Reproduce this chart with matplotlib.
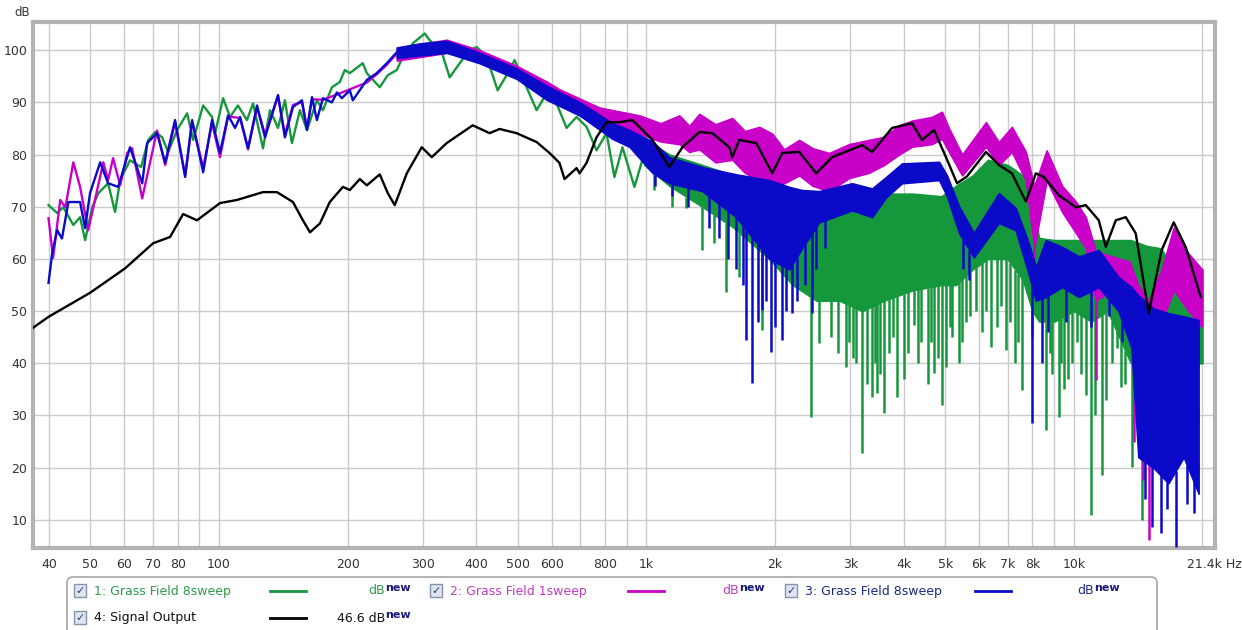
import numpy as np
import matplotlib
matplotlib.use('Agg')
import matplotlib.pyplot as plt
from matplotlib.patches import Rectangle, FancyBboxPatch

# colours of the four REW traces
GREEN = '#15983c'
MAGENTA = '#c800c8'
BLUE = '#0a0ac8'
BLACK = '#000000'

# ---- 4: Signal Output (smooth trace) ----
black_f = [36.7, 39.9, 49.9, 60.3, 70.1, 76.8, 82.4, 88.8, 100.5, 110.2, 126.7, 136.6, 148.9, 157.1,
           163.2, 172.2, 181.6, 194.9, 202.3, 213.5, 221.7, 237.7, 248.2, 257.7, 275.0, 298.0, 314.6,
           341.0, 392.2, 429.7, 453.4, 496.8, 553.4, 593.3, 626.0, 643.2, 686.3, 697.6, 724.3, 764.3,
           806.5, 864.9, 927.4, 1033, 1132, 1214, 1330, 1426, 1563, 1588, 1649, 1807, 1970, 2079, 2278,
           2496, 2720, 3197, 3373, 3757, 4183, 4415, 4709, 5022, 5330, 5623, 6229, 6678, 7164, 7726,
           8152, 8510, 9226, 10110, 10670, 11440, 11880, 12540, 13230, 13960, 14970, 16060, 17130,
           18270, 19810]
black_db = [46.8, 48.9, 53.5, 58.2, 63.0, 64.2, 68.6, 67.4, 70.7, 71.3, 72.8, 72.8, 70.9, 67.4,
            65.1, 66.8, 70.9, 73.8, 73.2, 75.3, 74.1, 76.2, 72.6, 70.3, 76.4, 81.4, 79.5,
            82.2, 85.6, 84.1, 84.9, 84.1, 82.4, 80.3, 78.4, 75.3, 77.4, 76.4, 78.4, 83.3,
            86.2, 86.2, 86.6, 82.8, 77.6, 81.4, 84.3, 84.1, 81.4, 79.5, 82.8, 82.2, 76.4, 80.3, 80.5,
            76.4, 79.5, 81.8, 80.5, 85.1, 86.0, 82.8, 84.7, 79.5, 74.5, 75.8, 80.5, 78.0, 76.4, 71.0,
            76.4, 75.7, 72.2, 69.9, 70.3, 67.4, 62.3, 67.4, 68.0, 64.9, 49.6, 61.7, 67.0,
            62.3, 52.7]

# ---- 1: Grass Field 8sweep (green) ----
green_f = [39.9, 41.8, 43.2, 45.6, 47.3, 48.6, 50.5, 52.2, 55.0, 57.1, 58.7, 61.9, 65.7, 68.3, 70.9,
           73.6, 76.0, 79.8, 84.2, 87.0, 91.8, 96.3, 97.9, 102.2, 106.1, 110.7, 116.2, 120.1, 126.7,
           131.6, 137.4, 142.6, 148.1, 154.6, 160.6, 169.4, 175.0, 183.7, 191.7, 196.9, 202.3, 216.9,
           221.7, 237.7, 248.2, 260.6, 269.1, 284.0, 302.9, 311.2, 331.9, 346.5, 365.7, 385.9, 400.7,
           422.8, 448.6, 478.6, 491.6, 524.3, 553.4, 583.9, 616.3, 650.2, 686.3, 724.3, 764.3, 806.5,
           841.8, 878.9, 937.6, 989.3]
green_db = [70.3, 68.8, 69.9, 66.5, 68.0, 63.6, 69.9, 72.6, 74.5, 69.0, 75.1, 78.9, 77.6, 82.8, 84.3,
            83.3, 80.5, 84.7, 87.9, 82.8, 89.4, 87.2, 84.1, 90.8, 87.2, 89.4, 86.6, 89.8, 81.2,
            88.5, 85.1, 90.4, 82.2, 88.5, 84.7, 90.4, 88.5, 92.9, 93.9, 96.2, 95.6, 97.5,
            95.6, 92.9, 95.2, 96.2, 98.7, 101.3, 103.2, 101.9, 99.6, 94.8, 97.5, 100.0, 100.6,
            98.7, 92.3, 96.2, 98.1, 92.9, 88.5, 91.7, 89.8, 85.1, 87.2, 85.3, 80.8, 84.1,
            75.7, 81.4, 73.8, 80.3]
green_band_f = [989, 1132, 1351, 1600, 1938, 2200, 2500, 2830, 3200, 3600, 4200, 4900, 5300, 5800,
                6300, 7000, 7600, 8000, 8300, 9000, 10000, 11000, 12000, 13600, 14800, 16000, 17000, 20000]
green_band_hi = [83, 80, 78, 76, 75.5, 73, 70, 72, 72.5, 72.5, 72.5, 72, 74, 76,
                 79, 78, 76, 70, 64, 63.6, 63.6, 63.6, 63.6, 63.6, 62.5, 62, 58.4, 58]
green_band_lo = [78, 74, 70, 66, 60, 55, 52, 52, 50, 52, 54, 55, 55, 58,
                 60, 60, 56, 50, 48, 48, 50, 48, 50, 40, 40, 40, 40, 40]
green_dip_f = [1044, 1150, 1240, 1351, 1442, 1538, 1649, 1866, 2430, 2537, 2700, 2800, 2933, 3100,
               3197, 3280, 3373, 3464, 3597, 3700, 3859, 4000, 4229, 4400, 4550, 4709, 4915, 5022,
               5200, 5386, 5600, 5900, 6100, 6399, 6600, 6936, 7100, 7300, 7557, 8000, 8600, 8900,
               9226, 9500, 9900, 10400, 10960, 11200, 11630, 12300, 12880, 13200, 13660, 14420,
               2980, 3050, 3420, 3520, 3780, 4100, 4320, 4640, 4800, 5120, 5480, 5720, 6230, 6750,
               7420, 8800, 9350, 9700, 10200, 10700, 11900, 12600]
green_dip_db = [73.2, 70.0, 69.7, 61.7, 63.0, 53.6, 56.5, 46.4, 29.7, 43.9, 45.0, 42.0, 39.3, 40.0,
                22.8, 36.0, 33.5, 34.3, 30.4, 42.0, 33.5, 37.0, 47.3, 44.0, 36.0, 38.1, 32.0, 39.3,
                45.0, 40.1, 48.0, 50.0, 46.0, 43.1, 47.0, 42.5, 48.0, 40.0, 34.9, 45.0, 27.2, 38.0,
                29.7, 35.0, 40.0, 38.0, 10.9, 30.0, 18.6, 40.0, 35.4, 36.0, 20.1, 10.0,
                44.0, 41.0, 40.0, 38.0, 45.0, 42.0, 40.0, 44.0, 41.0, 47.0, 44.0, 49.0, 50.0, 51.0,
                44.0, 42.0, 40.0, 37.0, 44.0, 34.0, 33.0, 43.0]

# ---- 2: Grass Field 1sweep (magenta) ----
mag_f = [39.9, 40.9, 42.5, 43.7, 45.6, 47.3, 49.4, 50.8, 53.6, 55.0, 56.5, 58.7, 61.0, 62.6, 66.1,
         71.6, 74.8, 78.9, 83.3, 86.5, 91.8, 96.3, 100.5, 105.0, 112.0, 116.9, 122.7, 128.1, 137.4,
         142.6, 148.9, 156.3, 160.6, 165.0, 175.0, 188.7, 202.3, 221.7, 233.9, 246.9, 260.6]
mag_db = [67.8, 60.2, 71.3, 69.9, 78.5, 73.8, 65.5, 69.9, 78.5, 75.1, 79.3, 74.1, 80.3, 81.2, 71.6,
          84.6, 78.0, 86.2, 76.0, 86.2, 77.5, 86.0, 79.5, 87.3, 87.0, 81.0, 89.0, 83.8, 91.2,
          83.8, 89.5, 90.0, 85.0, 90.6, 90.5, 91.5, 92.5, 93.8, 95.4, 97.2, 99.4]
mag_band_f = [260.6, 341, 407, 497, 584, 626, 777, 963, 1080, 1194, 1260, 1330, 1450, 1588, 1700,
              1837, 1970, 2100, 2278, 2450, 2675, 2982, 3316, 3600, 3900, 4183, 4653, 4915, 5107,
              5479, 6229, 6678, 7164, 7726, 8079, 8640, 9390, 10110, 10670, 11250, 12260, 13500,
              14160, 14970, 16060, 17130, 18570, 19960]
mag_band_hi = [100.5, 102.0, 100.0, 97.0, 94.0, 92.5, 89.0, 87.5, 86.0, 87.5, 85.5, 87.8, 85.8, 87.0,
               84.5, 85.3, 84.0, 81.0, 82.8, 81.2, 80.3, 82.0, 82.8, 83.4, 85.6, 86.5, 87.2, 88.2,
               85.0, 80.0, 86.2, 82.4, 85.3, 80.5, 74.0, 80.8, 74.0, 71.0, 68.0, 61.5, 60.5, 59.5,
               55.0, 52.0, 58.0, 66.0, 61.0, 58.0]
mag_band_lo = [98.0, 99.5, 98.0, 95.0, 91.5, 89.5, 85.5, 84.0, 82.5, 82.0, 80.5, 81.0, 78.5, 79.0,
               76.5, 75.0, 73.5, 74.5, 76.0, 74.0, 73.0, 75.5, 76.5, 78.0, 80.0, 81.5, 82.0, 83.0,
               80.5, 76.0, 81.5, 78.0, 80.5, 75.0, 62.0, 75.0, 69.0, 65.0, 62.0, 52.0, 54.0, 50.0,
               40.0, 38.0, 48.0, 54.0, 50.0, 47.0]
mag_dip_f = [8079, 11250, 13800, 14500, 14970]
mag_dip_db = [54.0, 36.8, 25.0, 17.6, 6.1]

# ---- 3: Grass Field 8sweep (blue) ----
blue_f = [39.9, 40.7, 41.8, 42.9, 44.4, 47.3, 48.6, 49.9, 52.7, 55.0, 58.1, 61.9, 66.1, 67.9, 71.6,
          74.8, 78.9, 83.3, 86.5, 91.8, 96.3, 100.5, 105.0, 109.0, 112.0, 116.9, 122.7, 128.1, 137.4,
          142.6, 148.9, 156.3, 160.6, 165.0, 169.4, 175.0, 183.7, 188.7, 193.8, 202.3, 205.6, 221.7,
          233.9, 246.9, 260.6]
blue_db = [55.4, 61.1, 65.5, 63.9, 70.9, 70.9, 65.9, 72.6, 78.5, 74.5, 73.8, 81.4, 74.5, 82.2, 84.1,
           78.4, 86.6, 75.7, 86.6, 76.6, 86.6, 80.3, 87.5, 85.1, 87.2, 81.2, 89.4, 83.3, 91.4,
           83.3, 89.1, 90.4, 84.7, 91.0, 86.6, 90.8, 90.0, 91.9, 90.8, 92.3, 90.4, 94.3,
           95.6, 97.5, 99.6]
blue_band_f = [260.6, 295, 341, 407, 497, 584, 698, 833, 912, 1033, 1132, 1351, 1623, 1938, 2158,
               2312, 2536, 3030, 3373, 3637, 3963, 4840, 5050, 5394, 5837, 6678, 7309, 7848, 8152,
               8597, 9390, 10280, 11440, 12720, 13640, 14160, 15350, 16650, 18080, 19590]
blue_band_hi = [100.5, 101.3, 101.8, 99.5, 96.5, 93.2, 90.0, 86.0, 84.7, 82.5, 79.5, 77.6, 76.2, 75.1,
                73.8, 73.2, 73.0, 74.5, 73.5, 75.7, 78.3, 78.6, 76.0, 70.0, 65.0, 72.6, 69.8, 63.0,
                58.4, 63.6, 62.3, 60.5, 61.7, 56.5, 54.6, 53.0, 50.5, 49.6, 49.0, 48.3]
blue_band_lo = [98.5, 99.0, 99.5, 97.5, 94.5, 90.5, 87.5, 83.0, 81.5, 76.5, 74.5, 73.0, 68.0, 60.0,
                58.0, 62.0, 67.0, 69.3, 68.0, 71.8, 74.5, 75.1, 72.0, 64.9, 60.3, 66.9, 65.5, 57.0,
                52.0, 52.7, 54.6, 52.7, 54.6, 50.0, 43.0, 22.0, 20.0, 17.0, 22.0, 15.0]
blue_dip_f = [1712, 1769, 1866, 1960, 2079, 2193, 2443, 7979, 8419, 14700, 15210, 15970, 16500,
              17310, 18400, 19070, 1050, 1150, 1250, 1400, 1480, 1550, 1620, 1680, 1820, 1900,
              2000, 2120, 2250, 2350, 2500, 2620, 5500, 5700, 8700, 9600, 11000, 12100, 13000]
blue_dip_db = [44.4, 36.2, 50.2, 42.1, 44.4, 49.6, 49.6, 28.5, 40.0, 14.0, 8.6, 7.5, 12.0,
               4.8, 13.0, 11.3, 74.0, 72.0, 70.0, 66.0, 64.0, 60.0, 58.0, 55.0, 48.0, 52.0,
               47.0, 50.0, 52.0, 55.0, 58.0, 62.0, 58.0, 56.0, 46.0, 48.0, 47.0, 49.0, 44.0]

# axis ticks
grid_f = [40, 50, 60, 70, 80, 90, 100, 200, 300, 400, 500, 600, 700, 800, 900,
          1000, 2000, 3000, 4000, 5000, 6000, 7000, 8000, 9000, 10000, 20000]
grid_lbl = ['40', '50', '60', '70', '80', '', '100', '200', '300', '400', '500', '600', '', '800', '',
            '1k', '2k', '3k', '4k', '5k', '6k', '7k', '8k', '', '10k', '']
grid_db = [10, 20, 30, 40, 50, 60, 70, 80, 90, 100]

W, H = 1242, 630
fig = plt.figure(figsize=(W / 100, H / 100), dpi=100)
fig.patch.set_facecolor('white')

# overlay in pixel coordinates for the loose text and legend
ov = fig.add_axes([0, 0, 1, 1], zorder=0)
ov.set_xlim(0, W)
ov.set_ylim(H, 0)
ov.axis('off')

ax = fig.add_axes([33 / W, (H - 548) / H, 1182 / W, 526 / H], zorder=1)
ax.set_xscale('log')
ax.set_xlim(36.7, 21400)
ax.set_ylim(4.6, 105.4)

ax.set_xticks(grid_f)
ax.set_xticklabels(grid_lbl)
ax.xaxis.set_minor_locator(matplotlib.ticker.NullLocator())
ax.set_yticks(grid_db)
ax.tick_params(axis='both', length=0, labelsize=9, labelcolor='#333333')
ax.tick_params(axis='x', pad=7)
ax.tick_params(axis='y', pad=4)
ax.grid(True, color='#cbcbcb', linewidth=1.0, zorder=0)
ax.set_axisbelow(True)
for s in ax.spines.values():
    s.set_color('#b3b3b3')
    s.set_linewidth(3)


def band(f, hi, lo, color, z):
    ax.fill_between(f, lo, hi, color=color, linewidth=1.2, edgecolor=color, zorder=z)


def spikes(f, db, band_f, band_hi, color, z):
    top = np.interp(np.log10(f), np.log10(band_f), band_hi)
    ax.vlines(f, db, top, color=color, linewidth=1.8, zorder=z)


# green
ax.plot(green_f, green_db, color=GREEN, lw=1.7, zorder=2)
band(green_band_f, green_band_hi, green_band_lo, GREEN, 2)
spikes(green_dip_f, green_dip_db, green_band_f, green_band_lo, GREEN, 2)

# magenta
ax.plot(mag_f, mag_db, color=MAGENTA, lw=1.7, zorder=3)
band(mag_band_f, mag_band_hi, mag_band_lo, MAGENTA, 3)
spikes(mag_dip_f, mag_dip_db, mag_band_f, mag_band_lo, MAGENTA, 3)

# blue
ax.plot(blue_f, blue_db, color=BLUE, lw=1.7, zorder=4)
band(blue_band_f, blue_band_hi, blue_band_lo, BLUE, 4)
spikes(blue_dip_f, blue_dip_db, blue_band_f, blue_band_lo, BLUE, 4)

# black
ax.plot(black_f, black_db, color=BLACK, lw=1.7, zorder=5)

# loose labels
ov.text(14, 12, 'dB', fontsize=8.5, color='#333333', va='center', ha='left')
ov.text(1187, 564, '21.4k Hz', fontsize=9, color='#333333', va='center', ha='left')

# legend panel
ov.add_patch(FancyBboxPatch((67, 577), 1090, 70, boxstyle='round,pad=0,rounding_size=6',
                            fc='white', ec='#a6a6a6', lw=1.2))

legend_rows = [
    (80, 591, '1: Grass Field 8sweep', '#2e9a4e', GREEN, 270, 385, 'dB', '#2e9a4e'),
    (436, 591, '2: Grass Field 1sweep', '#c03cc0', MAGENTA, 628, 739, 'dB', '#c03cc0'),
    (791, 591, '3: Grass Field 8sweep', '#1c2a80', BLUE, 975, 1094, 'dB', '#1c2a80'),
    (80, 618, '4: Signal Output', '#111111', BLACK, 270, 385, '46.6 dB', '#111111'),
]
for cx, cy, name, tcol, lcol, lx, dbx, dbtxt, dbcol in legend_rows:
    ov.add_patch(Rectangle((cx - 6, cy - 7), 12, 13, fc='#dde5f0', ec='#8593ab', lw=1))
    ov.text(cx, cy, '\u2713', fontsize=8, color='#2a3d6e', ha='center', va='center', fontweight='bold')
    ov.text(cx + 14, cy, name, fontsize=9, color=tcol, ha='left', va='center')
    ov.plot([lx, lx + 36], [cy, cy], color=lcol, lw=2)
    ov.text(dbx, cy, dbtxt, fontsize=9, color=dbcol, ha='right', va='center')
    ov.text(dbx, cy - 3, 'new', fontsize=8, color='#1a1a7a', ha='left', va='center', fontweight='bold')

fig.savefig('out.png', dpi=100, facecolor='white')
